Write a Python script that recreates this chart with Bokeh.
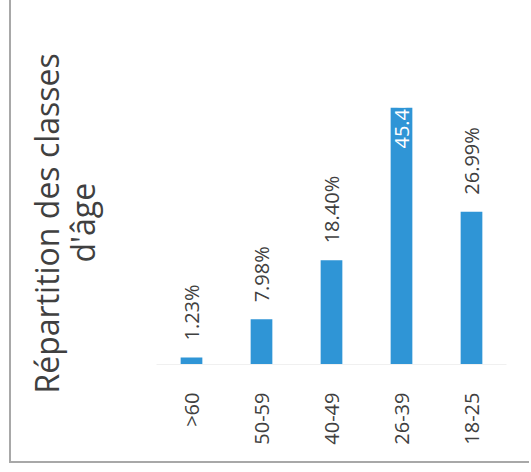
import math
from bokeh.plotting import figure
from bokeh.models import ColumnDataSource, FactorRange, Range1d, Title
from bokeh.core.properties import value
from bokeh.embed import file_html
from bokeh.resources import INLINE

# ---- data ----
categories = [">60", "50-59", "40-49", "26-39", "18-25"]
percentages = [1.23, 7.98, 18.40, 45.40, 26.99]
title_line1 = "Répartition des classes"
title_line2 = "d'âge"

FONT = "Open Sans"
TEXT_COLOR = "#404040"
BAR_COLOR = "#2f95d6"

vmax = max(percentages)
labels = [f"{v:.2f}%" for v in percentages]
label_colors = ["white" if v == vmax else TEXT_COLOR for v in percentages]
label_offsets = [41 if v == vmax else -17 for v in percentages]

src = ColumnDataSource(dict(cat=categories, val=percentages, lab=labels,
                            col=label_colors, off=label_offsets))

p = figure(
    x_range=FactorRange(*categories, range_padding=0),
    y_range=Range1d(0, vmax),
    width=520, height=463,
    output_backend="svg", toolbar_location=None,
    y_axis_location=None,
    min_border_left=145, min_border_right=25,
    min_border_top=107, min_border_bottom=99,
)
p.styles = {"margin-left": "9px",
            "border-left": "2px solid #a8a8a8", "border-bottom": "2px solid #a8a8a8"}
p.outline_line_color = None
p.background_fill_color = "white"
p.border_fill_color = "white"
p.xgrid.grid_line_color = None
p.ygrid.grid_line_color = None

p.vbar(x="cat", top="val", width=0.31, source=src, fill_color=BAR_COLOR, line_color=None)

p.text(x="cat", y="val", text="lab", source=src, angle=math.pi / 2,
       text_align="left", text_baseline="middle", y_offset="off",
       text_color="col", text_font=value(FONT), text_font_size="20px")

ax = p.xaxis[0]
ax.major_label_orientation = math.pi / 2
ax.major_label_text_font = FONT
ax.major_label_text_font_size = "20px"
ax.major_label_text_color = TEXT_COLOR
ax.major_tick_line_color = None
ax.minor_tick_line_color = None
ax.axis_line_color = "#f0f0f0"
ax.major_label_standoff = 22

spacer = Title(text=" ", text_font_size="1px", standoff=50)
t2 = Title(text=title_line2, align="left", text_font=FONT, text_font_size="32px",
           text_font_style="normal", text_color=TEXT_COLOR, offset=102, standoff=0)
t1 = Title(text=title_line1, align="left", text_font=FONT, text_font_size="32px",
           text_font_style="normal", text_color=TEXT_COLOR, offset=-29, standoff=-18)
p.add_layout(spacer, "left")
p.add_layout(t2, "left")
p.add_layout(t1, "left")

open("out.html", "w").write(file_html(p, INLINE))
